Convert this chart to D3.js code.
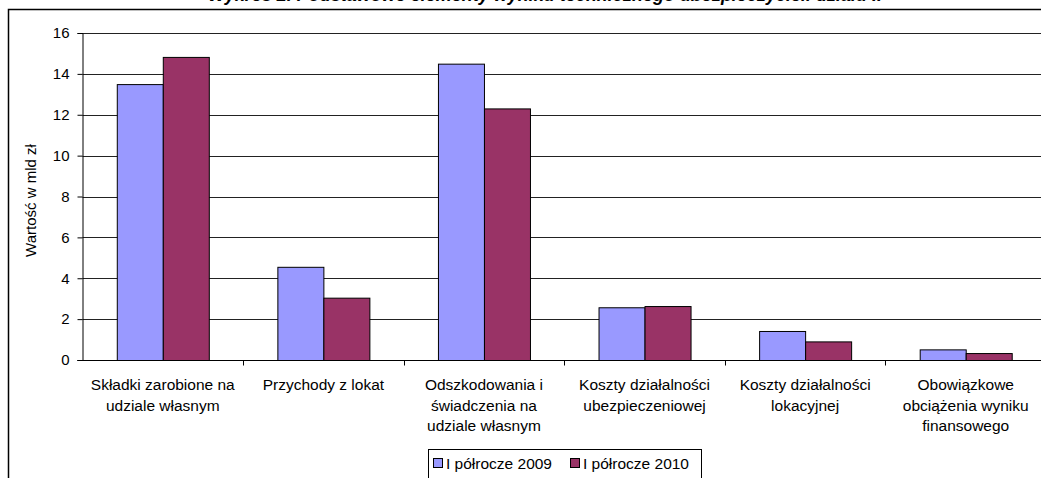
<!DOCTYPE html>
<html>
<head>
<meta charset="utf-8">
<script src="https://cdn.jsdelivr.net/npm/d3@7"></script>
<style>
  body { margin: 0; background: #fff; }
  svg { display: block; font-family: "Liberation Sans", Arial, sans-serif; }
</style>
</head>
<body>
<svg id="chart" width="1041" height="478"></svg>
<script>
// dane
const categories = [
    ["Składki zarobione na", "udziale własnym"],
    ["Przychody z lokat"],
    ["Odszkodowania i", "świadczenia na", "udziale własnym"],
    ["Koszty działalności", "ubezpieczeniowej"],
    ["Koszty działalności", "lokacyjnej"],
    ["Obowiązkowe", "obciążenia wyniku", "finansowego"]
];
const seriesNames = ["I półrocze 2009", "I półrocze 2010"];
const values2009 = [13.5, 4.56, 14.5, 2.58, 1.42, 0.52];
const values2010 = [14.83, 3.05, 12.31, 2.64, 0.91, 0.34];
const yTicks = [0, 2, 4, 6, 8, 10, 12, 14, 16];
const colors = ["#9999FF", "#993366"];

const svg = d3.select("#chart");

// ramka wykresu
svg.append("rect")
    .attr("x", 8.5).attr("y", 9.5)
    .attr("width", 1100).attr("height", 600)
    .attr("fill", "none")
    .attr("stroke", "#000")
    .attr("stroke-width", 1.5);

// tytuł (ucięty u góry, jak w oryginale)
svg.append("text")
    .attr("x", 545).attr("y", 1)
    .attr("text-anchor", "middle")
    .attr("font-weight", "bold")
    .attr("font-style", "italic")
    .attr("font-size", 18)
    .text("Wykres 2. Podstawowe elementy wyniku technicznego ubezpieczycieli działu II");

const plotLeft = 82.5, plotRight = 1046, plotTop = 33, plotBottom = 360;

const y = d3.scaleLinear().domain([0, 16]).range([plotBottom, plotTop]);
const x0 = d3.scaleBand().domain(d3.range(categories.length)).range([plotLeft, plotRight]);
const bw = x0.bandwidth();
const gap = bw * 0.2135;
const x1 = d3.scaleBand().domain([0, 1]).range([gap, bw - gap]);

// linie siatki
svg.append("g")
    .selectAll("line")
    .data(yTicks.filter(t => t > 0))
    .enter().append("line")
    .attr("x1", plotLeft).attr("x2", 1041)
    .attr("y1", d => Math.round(y(d)) + 0.5)
    .attr("y2", d => Math.round(y(d)) + 0.5)
    .attr("stroke", "#222")
    .attr("stroke-width", 1);

// oś Y
const yAxis = svg.append("g")
    .attr("transform", `translate(${plotLeft},0)`)
    .call(d3.axisLeft(y).tickValues(yTicks).tickSize(5).tickPadding(8));
yAxis.select(".domain").attr("stroke", "#000");
yAxis.selectAll("line").attr("stroke", "#000");
yAxis.selectAll("text").attr("font-size", 15).attr("fill", "#000")
    .attr("font-family", "Liberation Sans, Arial, sans-serif");

svg.append("text")
    .attr("transform", `translate(36,${(plotTop + plotBottom) / 2 + 4}) rotate(-90)`)
    .attr("text-anchor", "middle")
    .attr("font-size", 15)
    .text("Wartość w mld zł");

// słupki
const groups = svg.append("g")
    .selectAll("g")
    .data(categories.map((c, i) => [values2009[i], values2010[i]]))
    .enter().append("g")
    .attr("transform", (d, i) => `translate(${x0(i)},0)`);

groups.selectAll("rect")
    .data(d => d)
    .enter().append("rect")
    .attr("x", (d, i) => x1(i) + 0.5)
    .attr("y", d => y(d) + 0.5)
    .attr("width", x1.bandwidth())
    .attr("height", d => plotBottom - y(d))
    .attr("fill", (d, i) => colors[i])
    .attr("stroke", "#000")
    .attr("stroke-width", 1);

// oś X
const xAxis = svg.append("g")
    .attr("transform", `translate(0,${plotBottom + 0.5})`);
xAxis.append("line")
    .attr("x1", plotLeft - 5).attr("x2", 1041)
    .attr("stroke", "#000");
xAxis.selectAll(".tk")
    .data(d3.range(1, categories.length))
    .enter().append("line")
    .attr("class", "tk")
    .attr("x1", i => Math.round(x0(i)) + 0.5)
    .attr("x2", i => Math.round(x0(i)) + 0.5)
    .attr("y1", 0).attr("y2", 5)
    .attr("stroke", "#000");

const labels = svg.append("g")
    .selectAll("text")
    .data(categories)
    .enter().append("text")
    .attr("text-anchor", "middle")
    .attr("font-size", 15.5)
    .attr("x", (d, i) => x0(i) + bw / 2);
labels.selectAll("tspan")
    .data(d => d)
    .enter().append("tspan")
    .attr("x", function() { return d3.select(this.parentNode).attr("x"); })
    .attr("y", (d, i) => 390 + i * 20.5)
    .text(d => d);

// legenda
const legend = svg.append("g");
legend.append("rect")
    .attr("x", 428.5).attr("y", 449.5)
    .attr("width", 273).attr("height", 30)
    .attr("fill", "#fff")
    .attr("stroke", "#000");
const legX = [433, 570];
seriesNames.forEach((name, i) => {
    legend.append("rect")
        .attr("x", legX[i] + 0.5).attr("y", 458.5)
        .attr("width", 9).attr("height", 9)
        .attr("fill", colors[i])
        .attr("stroke", "#000");
    legend.append("text")
        .attr("x", legX[i] + 13)
        .attr("y", 468.5)
        .attr("font-size", 15.5)
        .text(name);
});
</script>
</body>
</html>
